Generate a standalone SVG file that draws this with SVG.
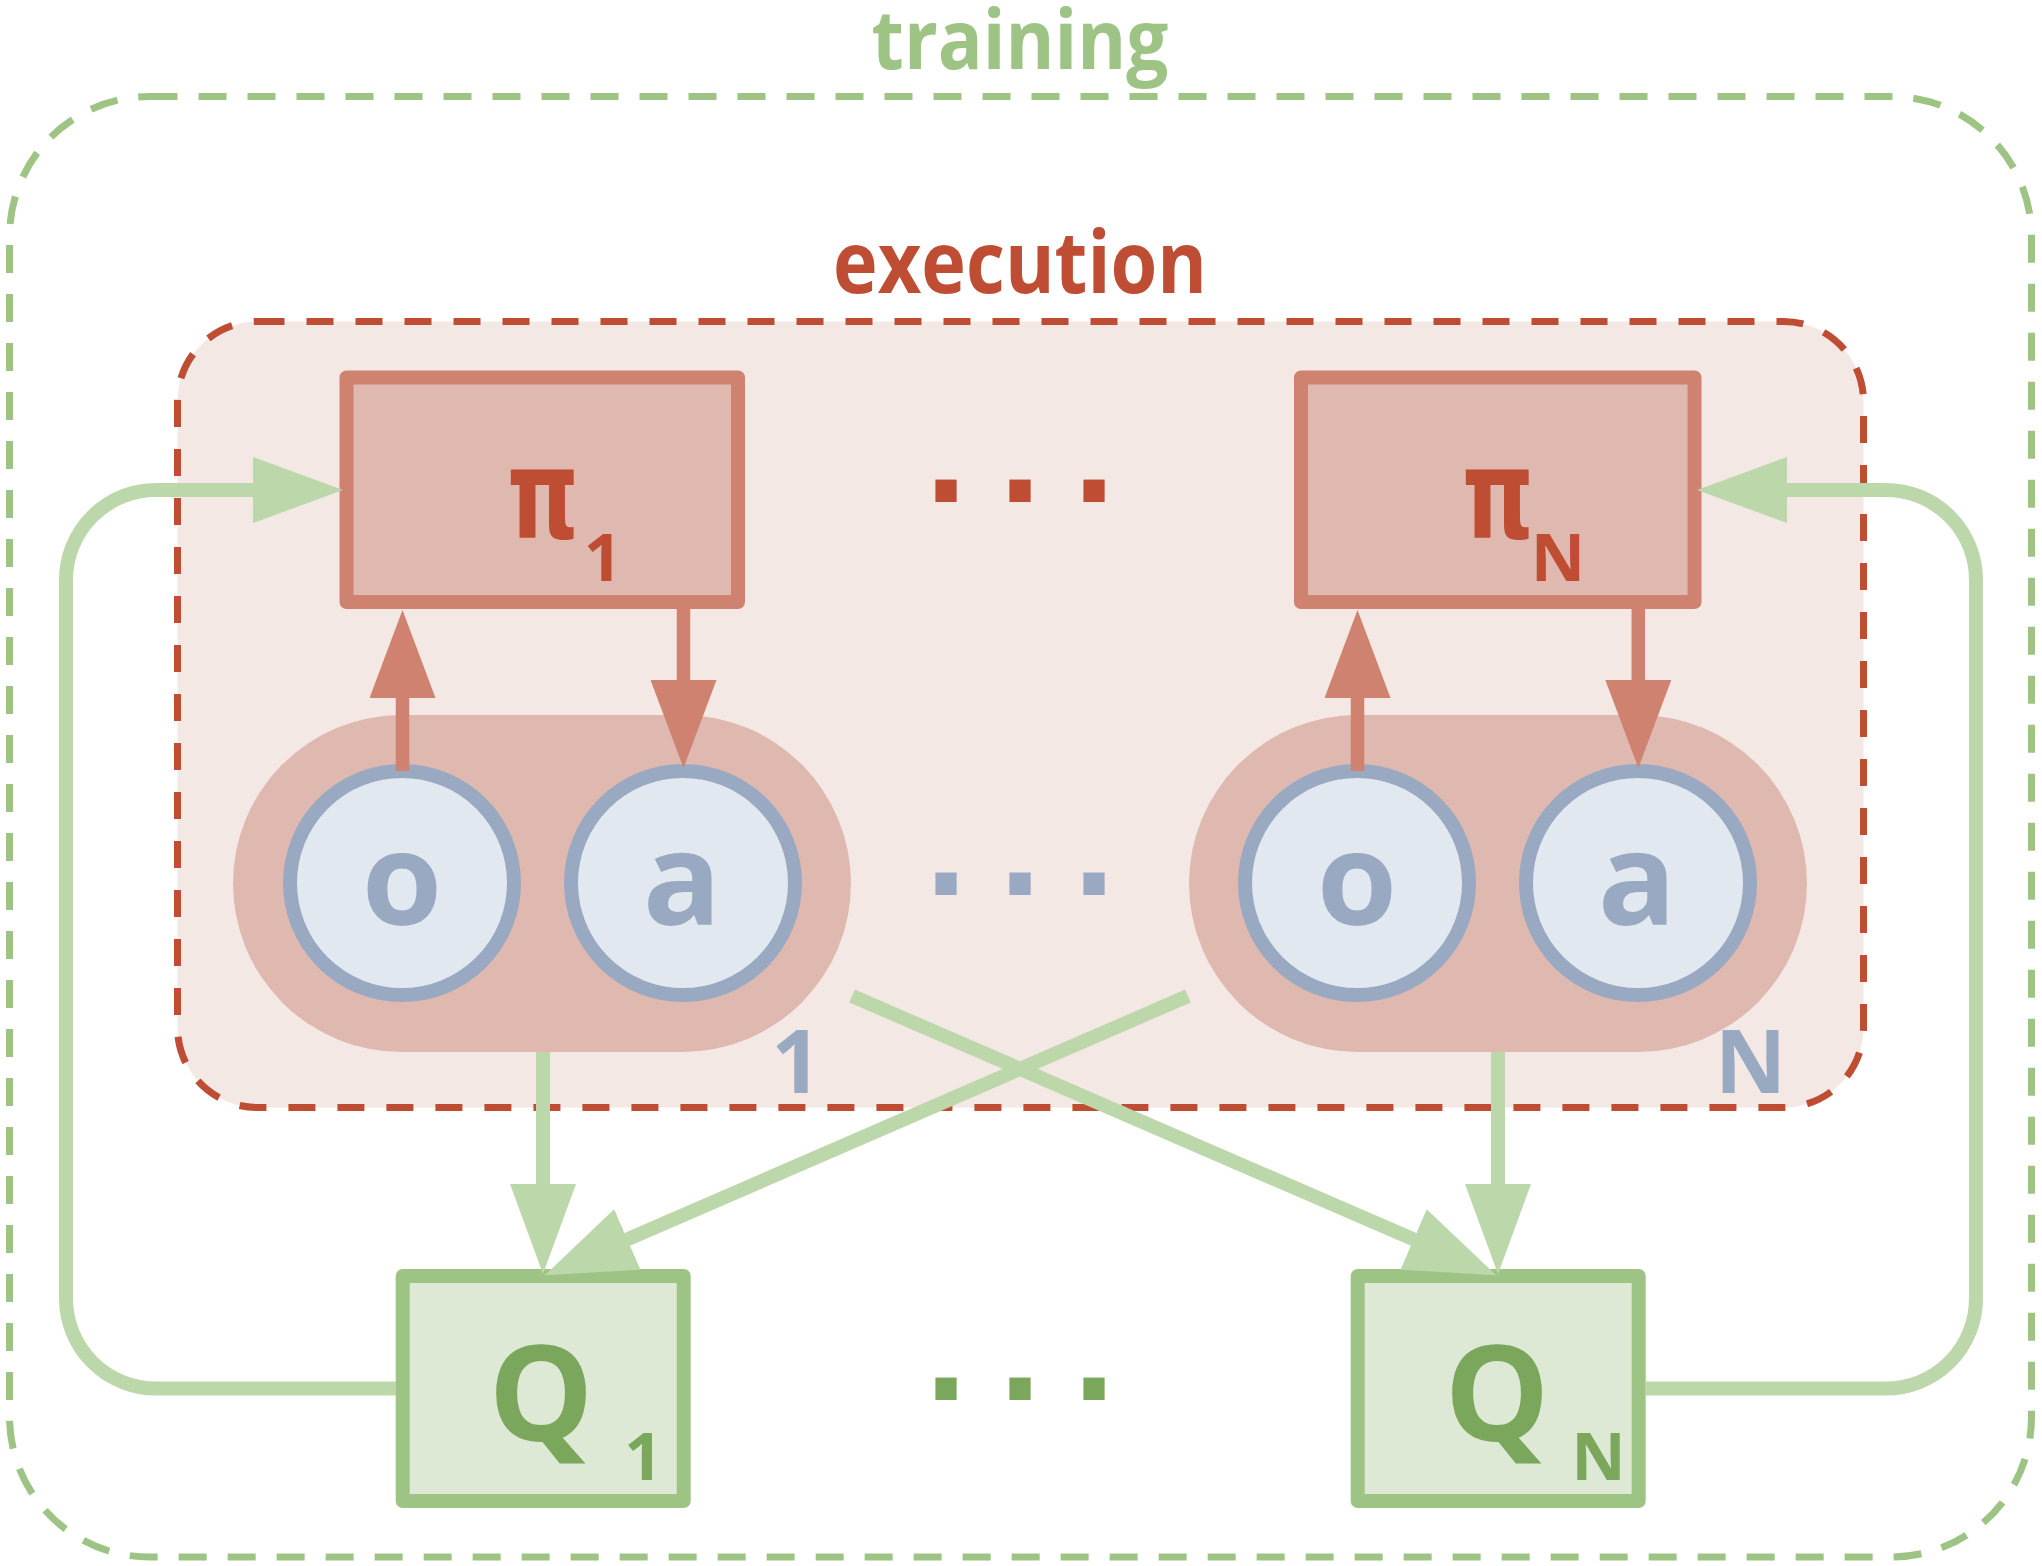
<svg xmlns="http://www.w3.org/2000/svg" width="2042" height="1566" viewBox="0 0 2042 1566">
<defs>
<style>
.lbl{font-family:"Open Sans","Liberation Sans",sans-serif;font-weight:bold;text-anchor:middle}
.pis{font-family:"DejaVu Sans",sans-serif;font-weight:bold;text-anchor:middle;font-size:125px}
.pi{fill:#DFB9B0;stroke:#D08270;stroke-width:14;stroke-linejoin:round}
.pill{fill:#DFB9B0}
.var{fill:#E1E8F0;stroke:#98A9C1;stroke-width:14}
.q{fill:#DDE9D5;stroke:#9EC485;stroke-width:14;stroke-linejoin:round}
.red{fill:#BE4D33}
.blue{fill:#98A9C1}
.qt{fill:#7AA75C}
.gl{fill:none;stroke:#BCD7AA;stroke-width:14}
.rl{fill:none;stroke:#D08270;stroke-width:13.5}
.dots{font-family:"Liberation Sans",Arial,sans-serif;font-weight:bold;font-size:150px;text-anchor:middle}
</style>
<marker id="ag" viewBox="0 -33 90 66" refX="2" refY="0" markerWidth="90" markerHeight="66" markerUnits="userSpaceOnUse" orient="auto">
<path d="M0,-33 L90,0 L0,33 z" fill="#BCD7AA"/>
</marker>
<marker id="ar" viewBox="0 -33 88 66" refX="2" refY="0" markerWidth="88" markerHeight="66" markerUnits="userSpaceOnUse" orient="auto">
<path d="M0,-33 L88,0 L0,33 z" fill="#D08270"/>
</marker>
</defs>
<rect width="2042" height="1566" fill="#FFFFFF"/>

<g id="training">
<rect x="9.5" y="96.5" width="2022" height="1460.5" rx="140" ry="140" fill="none" stroke="#9DC484" stroke-width="7" stroke-dasharray="28 21"/>
<text class="lbl" x="1020" y="69" font-size="82" fill="#9DC484" textLength="297" lengthAdjust="spacingAndGlyphs">training</text>
</g>

<g id="execution">
<rect x="177.5" y="321.5" width="1686" height="786" rx="80" ry="80" fill="#F4E8E4" stroke="#BE4D33" stroke-width="7" stroke-dasharray="27 22"/>
<text class="lbl red" x="1020" y="293" font-size="86" textLength="374" lengthAdjust="spacingAndGlyphs">execution</text>
</g>

<g id="agent1">
<rect class="pill" x="233" y="715" width="618" height="337" rx="168.5" ry="168.5"/>
<g id="o1"><circle class="var" cx="402" cy="883" r="112"/><text class="lbl blue" x="402" y="925" font-size="130">o</text></g>
<g id="a1"><circle class="var" cx="683" cy="883" r="112"/><text class="lbl blue" x="682" y="925" font-size="130">a</text></g>
<text class="lbl blue" x="796.5" y="1093" font-size="88">1</text>
</g>

<g id="agentN">
<rect class="pill" x="1189" y="715" width="618" height="337" rx="168.5" ry="168.5"/>
<g id="oN"><circle class="var" cx="1357" cy="883" r="112"/><text class="lbl blue" x="1357" y="925" font-size="130">o</text></g>
<g id="aN"><circle class="var" cx="1638" cy="883" r="112"/><text class="lbl blue" x="1637" y="925" font-size="130">a</text></g>
<text class="lbl blue" x="1750.5" y="1093" font-size="88">N</text>
</g>

<g id="pi1">
<rect class="pi" x="346.5" y="377.5" width="391.5" height="224.5"/>
<text class="pis red" x="543" y="538" textLength="72" lengthAdjust="spacingAndGlyphs">π</text>
<text class="lbl red" x="603" y="581" font-size="67">1</text>
</g>

<g id="piN">
<rect class="pi" x="1301" y="377.5" width="393.5" height="224.5"/>
<text class="pis red" x="1498" y="538" textLength="72" lengthAdjust="spacingAndGlyphs">π</text>
<text class="lbl red" x="1558" y="581" font-size="67">N</text>
</g>

<g id="q1">
<rect class="q" x="402.7" y="1276" width="281" height="225"/>
<text class="lbl qt" x="541" y="1441" font-size="132">Q</text>
<text class="lbl qt" x="643.5" y="1480" font-size="67">1</text>
</g>

<g id="qN">
<rect class="q" x="1357.7" y="1276" width="281" height="225"/>
<text class="lbl qt" x="1497" y="1441" font-size="132">Q</text>
<text class="lbl qt" x="1598.5" y="1480" font-size="67">N</text>
</g>

<g id="ellipses">
<text class="dots red" x="946 1020 1094" y="501.5">...</text>
<text class="dots blue" x="946 1020 1094" y="894.5">...</text>
<text class="dots qt" x="946 1020 1094" y="1400">...</text>
</g>

<g id="connectors">
<path class="rl" d="M402.5,771 V696" marker-end="url(#ar)"/>
<path class="rl" d="M683.5,602 V682" marker-end="url(#ar)"/>
<path class="rl" d="M1357.5,771 V696" marker-end="url(#ar)"/>
<path class="rl" d="M1638.3,602 V682" marker-end="url(#ar)"/>
<path class="gl" d="M543,1052 V1186" marker-end="url(#ag)"/>
<path class="gl" d="M1498,1052 V1186" marker-end="url(#ag)"/>
<path class="gl" d="M852,996 L1415.4,1240.2" marker-end="url(#ag)"/>
<path class="gl" d="M1188,996 L625.5,1240.2" marker-end="url(#ag)"/>
<path class="gl" d="M396,1388.5 H156 A90,90 0 0 1 66,1298.5 V580 A90,90 0 0 1 156,490 H255" marker-end="url(#ag)"/>
<path class="gl" d="M1645.7,1388.5 H1886 A90,90 0 0 0 1976,1298.5 V580 A90,90 0 0 0 1886,490 H1785" marker-end="url(#ag)"/>
</g>
</svg>
